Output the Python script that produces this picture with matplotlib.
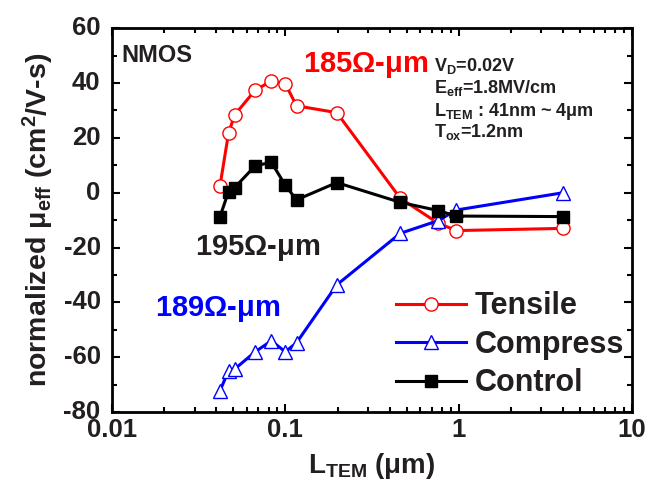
import matplotlib
matplotlib.use("Agg")
import matplotlib.pyplot as plt
import matplotlib.transforms as mtransforms
from matplotlib.ticker import LogLocator, NullFormatter, MultipleLocator

plt.rcParams['font.family'] = ['Liberation Sans', 'DejaVu Sans']
plt.rcParams['font.weight'] = 'bold'
plt.rcParams['axes.labelweight'] = 'bold'
plt.rcParams['mathtext.fontset'] = 'custom'
plt.rcParams['mathtext.bf'] = 'Liberation Sans:bold'
plt.rcParams['mathtext.rm'] = 'Liberation Sans:bold'
plt.rcParams['mathtext.default'] = 'bf'

# gate length (um)
L_tem = [0.042, 0.047, 0.051, 0.067, 0.083, 0.100, 0.116, 0.198, 0.46, 0.76, 0.97, 4.0]
# normalized mobility change (cm^2/V-s)
tensile = [2.6, 21.7, 28.4, 37.4, 40.7, 39.7, 31.7, 29.2, -2.0, -11.1, -13.8, -13.0]
compress = [-72.2, -64.9, -64.3, -58.0, -54.0, -58.0, -54.7, -33.6, -14.8, -10.2, -6.3, 0.0]
control = [-8.7, 0.4, 1.9, 9.8, 11.1, 2.7, -2.6, 3.7, -3.5, -6.5, -8.5, -8.7]

xticks = [0.01, 0.1, 1, 10]
xticklabels = ['0.01', '0.1', '1', '10']
yticks = [-80, -60, -40, -20, 0, 20, 40, 60]
yticklabels = ['-80', '-60', '-40', '-20', '0', '20', '40', '60']

txt = '#231f20'

fig = plt.figure(figsize=(6.51, 4.86), dpi=100)
ax = fig.add_axes([0.172, 0.152, 0.799, 0.790])

ax.plot(L_tem, tensile, color='red', lw=2.2, marker='o', ms=9.5, mfc='white',
        mec='red', mew=1.0, label='Tensile')
ax.plot(L_tem, compress, color='blue', lw=2.2, marker='^', ms=10, mfc='white',
        mec='blue', mew=1.0, label='Compress')
ax.plot(L_tem, control, color='black', lw=2.2, marker='s', ms=8.5, mfc='black',
        mec='black', label='Control')

ax.set_xscale('log')
ax.set_xlim(0.01, 10)
ax.set_ylim(-80, 60)
ax.set_xticks(xticks)
ax.set_yticks(yticks)
ax.yaxis.set_minor_locator(MultipleLocator(10))
ax.xaxis.set_minor_locator(LogLocator(base=10, subs=range(2, 10)))
ax.xaxis.set_minor_formatter(NullFormatter())

for s in ax.spines.values():
    s.set_linewidth(2.0)
ax.tick_params(which='both', direction='in', top=True, right=True, width=1.5,
               labelbottom=False, labelleft=False)
ax.tick_params(which='major', length=6)
ax.tick_params(which='minor', length=3.5)

# bold tick labels, placed at the tick positions
xt = mtransforms.blended_transform_factory(ax.transData, ax.transAxes)
for v, s in zip(xticks, xticklabels):
    ax.text(v, -0.014, s, transform=xt, ha='center', va='top', fontsize=18.5,
            fontweight='heavy', color=txt, clip_on=False)
yt = mtransforms.blended_transform_factory(ax.transAxes, ax.transData)
for v, s in zip(yticks, yticklabels):
    ax.text(-0.022, v, s, transform=yt, ha='right', va='center', fontsize=18.5,
            fontweight='heavy', color=txt, clip_on=False)

ax.text(0.5, -0.10, r'L$_{TEM}$ ($\mu$m)', transform=ax.transAxes, fontsize=20,
        color=txt, ha='center', va='top')
ax.text(-0.142, 0.5, r'normalized $\mu_{eff}$ (cm$^2$/V-s)', transform=ax.transAxes,
        fontsize=20.5, color=txt, ha='center', va='center', rotation=90)

ax.text(0.018, 0.93, 'NMOS', transform=ax.transAxes, fontsize=17, color=txt,
        fontweight='bold', va='center', ha='left')
ax.text(0.368, 0.904, r'185$\Omega$-$\mu$m', transform=ax.transAxes, fontsize=21,
        color='red', va='center', ha='left')
ax.text(0.159, 0.427, r'195$\Omega$-$\mu$m', transform=ax.transAxes, fontsize=21,
        color=txt, va='center', ha='left')
ax.text(0.083, 0.268, r'189$\Omega$-$\mu$m', transform=ax.transAxes, fontsize=21,
        color='blue', va='center', ha='left')

cond = [r'V$_D$=0.02V', r'E$_{eff}$=1.8MV/cm', r'L$_{TEM}$ : 41nm ~ 4$\mu$m',
        r'T$_{ox}$=1.2nm']
ys = [0.902, 0.844, 0.782, 0.730]
for c, y in zip(cond, ys):
    ax.text(0.619, y, c, transform=ax.transAxes, fontsize=13, color=txt,
            va='center', ha='left')

leg = ax.legend(loc='lower right', bbox_to_anchor=(1.023, -0.016), frameon=False,
                fontsize=22, handlelength=2.3, handletextpad=0.28,
                labelspacing=0.28, borderaxespad=0.25)
for t in leg.get_texts():
    t.set_color(txt)
    t.set_fontweight('bold')

fig.savefig('out.png', dpi=100)
